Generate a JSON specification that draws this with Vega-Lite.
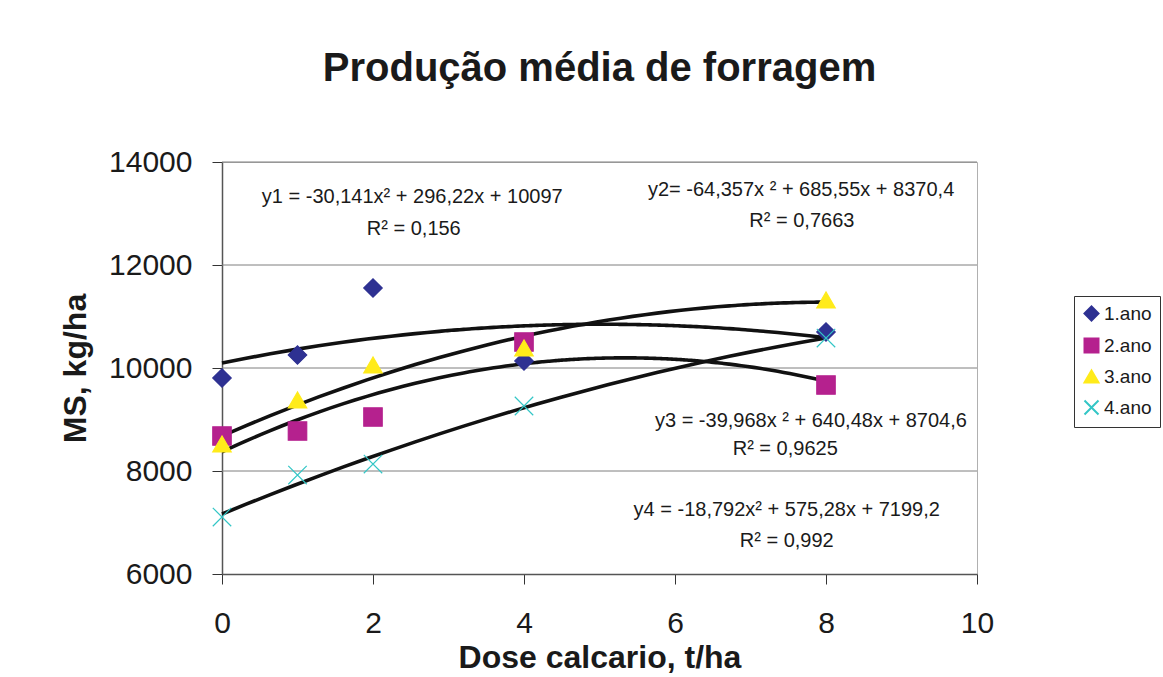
{
  "$schema": "https://vega.github.io/schema/vega-lite/v6.json",
  "width": 755,
  "height": 412,
  "autosize": "none",
  "padding": {"left": 222, "top": 162, "right": 186, "bottom": 103},
  "background": "white",
  "config": {
    "font": "Liberation Sans",
    "view": {"stroke": "#b0b0b0", "strokeWidth": 1},
    "axis": {"grid": false, "labelFlush": false},
    "legend": {
      "orient": "none",
      "legendX": 852,
      "legendY": 134,
      "strokeColor": "#333333",
      "padding": 8,
      "labelFontSize": 19,
      "labelColor": "#1a1a1a",
      "symbolSize": 196,
      "symbolStrokeWidth": 2,
      "rowPadding": 9,
      "labelOffset": 3
    }
  },
  "title": {
    "text": "Produção média de forragem",
    "fontSize": 40,
    "fontWeight": "bold",
    "font": "Liberation Sans",
    "color": "#1a1a1a",
    "anchor": "middle",
    "offset": 58
  },
  "datasets": {
    "points": [
      {"dose": 0, "ms": 9805, "series": "1.ano"},
      {"dose": 1, "ms": 10252, "series": "1.ano"},
      {"dose": 2, "ms": 11553, "series": "1.ano"},
      {"dose": 4, "ms": 10135, "series": "1.ano"},
      {"dose": 8, "ms": 10699, "series": "1.ano"},
      {"dose": 0, "ms": 8679, "series": "2.ano"},
      {"dose": 1, "ms": 8776, "series": "2.ano"},
      {"dose": 2, "ms": 9048, "series": "2.ano"},
      {"dose": 4, "ms": 10504, "series": "2.ano"},
      {"dose": 8, "ms": 9669, "series": "2.ano"},
      {"dose": 0, "ms": 8524, "series": "3.ano"},
      {"dose": 1, "ms": 9378, "series": "3.ano"},
      {"dose": 2, "ms": 10058, "series": "3.ano"},
      {"dose": 4, "ms": 10388, "series": "3.ano"},
      {"dose": 8, "ms": 11320, "series": "3.ano"},
      {"dose": 0, "ms": 7106, "series": "4.ano"},
      {"dose": 1, "ms": 7921, "series": "4.ano"},
      {"dose": 2, "ms": 8135, "series": "4.ano"},
      {"dose": 4, "ms": 9262, "series": "4.ano"},
      {"dose": 8, "ms": 10582, "series": "4.ano"}
    ],
    "labels": [
      {"dose": 2.52, "ms": 13320, "text": "y1 = -30,141x² + 296,22x + 10097"},
      {"dose": 2.54, "ms": 12699, "text": "R² = 0,156"},
      {"dose": 7.67, "ms": 13456, "text": "y2= -64,357x ² + 685,55x + 8370,4"},
      {"dose": 7.68, "ms": 12854, "text": "R² = 0,7663"},
      {"dose": 7.80, "ms": 8971, "text": "y3 = -39,968x ² + 640,48x + 8704,6"},
      {"dose": 7.46, "ms": 8427, "text": "R² = 0,9625"},
      {"dose": 7.48, "ms": 7243, "text": "y4 = -18,792x² + 575,28x + 7199,2"},
      {"dose": 7.48, "ms": 6641, "text": "R² = 0,992"}
    ]
  },
  "layer": [
    {
      "data": {"values": [{"ms": 8000}, {"ms": 10000}, {"ms": 12000}, {"ms": 14000}]},
      "mark": {"type": "rule", "color": "#7f7f7f", "strokeWidth": 1},
      "encoding": {"y": {"field": "ms", "type": "quantitative", "scale": {"domain": [6000, 14000]}}}
    },
    {
      "data": {"name": "points"},
      "transform": [
        {"regression": "ms", "on": "dose", "groupby": ["series"], "method": "poly", "order": 2, "extent": [0, 8]}
      ],
      "mark": {"type": "line", "color": "#111111", "strokeWidth": 3.6, "interpolate": "monotone"},
      "encoding": {
        "x": {"field": "dose", "type": "quantitative"},
        "y": {"field": "ms", "type": "quantitative"},
        "detail": {"field": "series"}
      }
    },
    {
      "data": {"name": "points"},
      "mark": {"type": "point", "filled": true, "opacity": 1, "size": 340, "strokeWidth": 1.2},
      "encoding": {
        "x": {
          "field": "dose", "type": "quantitative",
          "scale": {"domain": [0, 10], "nice": false},
          "axis": {
            "title": "Dose calcario, t/ha",
            "values": [0, 2, 4, 6, 8, 10],
            "format": "d",
            "labelFlush": false,
            "labelFontSize": 30,
            "labelColor": "#1a1a1a",
            "labelPadding": 24,
            "tickSize": 10,
            "tickColor": "#333333",
            "domainColor": "#555555",
            "domainWidth": 1.5,
            "titleFontSize": 32,
            "titleFontWeight": "bold",
            "titleColor": "#1a1a1a",
            "titlePadding": 4
          }
        },
        "y": {
          "field": "ms", "type": "quantitative",
          "scale": {"domain": [6000, 14000], "nice": false},
          "axis": {
            "title": "MS, kg/ha",
            "values": [6000, 8000, 10000, 12000, 14000],
            "format": "d",
            "labelFlush": false,
            "labelFontSize": 30,
            "labelColor": "#1a1a1a",
            "labelPadding": 20,
            "tickSize": 10,
            "tickColor": "#333333",
            "domainColor": "#555555",
            "domainWidth": 1.5,
            "titleFontSize": 32,
            "titleFontWeight": "bold",
            "titleColor": "#1a1a1a",
            "titlePadding": 16
          }
        },
        "fill": {
          "field": "series", "type": "nominal", "title": null,
          "scale": {"domain": ["1.ano", "2.ano", "3.ano", "4.ano"], "range": ["#2E3192", "#B5218E", "#FFEB1A", "#33C6C6"]}
        },
        "stroke": {
          "field": "series", "type": "nominal", "title": null,
          "scale": {"domain": ["1.ano", "2.ano", "3.ano", "4.ano"], "range": ["#2E3192", "#B5218E", "#FFEB1A", "#33C6C6"]}
        },
        "shape": {
          "field": "series", "type": "nominal", "title": null,
          "scale": {"domain": ["1.ano", "2.ano", "3.ano", "4.ano"], "range": ["diamond", "square", "triangle-up", "M-1,-1L1,1M-1,1L1,-1"]}
        }
      }
    },
    {
      "data": {"name": "labels"},
      "mark": {"type": "text", "fontSize": 20, "color": "#1a1a1a", "align": "center", "baseline": "middle"},
      "encoding": {
        "x": {"field": "dose", "type": "quantitative"},
        "y": {"field": "ms", "type": "quantitative"},
        "text": {"field": "text"}
      }
    }
  ]
}
